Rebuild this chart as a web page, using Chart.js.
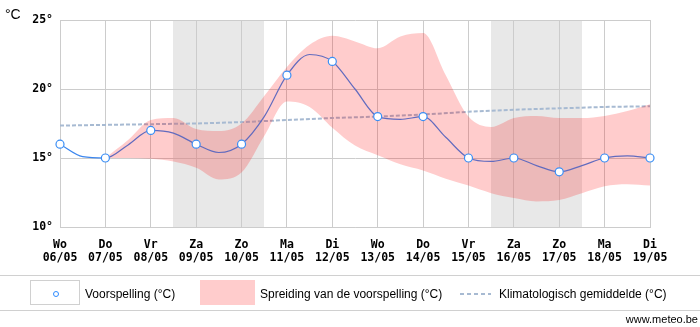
<!DOCTYPE html>
<html>
<head>
<meta charset="utf-8">
<script src="https://cdn.jsdelivr.net/npm/chart.js@4/dist/chart.umd.min.js"></script>
<style>
  html, body { margin: 0; padding: 0; background: #fff; }
  #wrap { position: relative; width: 700px; height: 327px; overflow: hidden; font-family: 'Liberation Sans', Arial, sans-serif; color: #000; }
  #tempChart { position: absolute; left: 0; top: 0; }
  .unit { position: absolute; left: 5px; top: 7px; font-size: 14px; line-height: 14px; }
  .legend { position: absolute; left: 0; top: 275px; width: 700px; height: 34px; border-top: 1px solid #d0d0d0; border-bottom: 1px solid #d0d0d0; }
  .legend .box { position: absolute; top: 4px; height: 25px; box-sizing: border-box; }
  .legend .dot { position: absolute; left: 22px; top: 10px; width: 6px; height: 6px; box-sizing: border-box; border: 1px solid #2f8cff; border-radius: 50%; }
  .legend .txt { position: absolute; top: 11px; font-size: 12px; line-height: 14px; white-space: nowrap; }
  .legend .dash { position: absolute; left: 460px; top: 17px; width: 31px; height: 2px;
    background: repeating-linear-gradient(90deg, #a7bad2 0 4px, transparent 4px 7px); }
  .credit { position: absolute; right: 2px; top: 312px; font-size: 11px; line-height: 14px; }
</style>
</head>
<body>
<div id="wrap">
  <canvas id="tempChart" width="700" height="327"></canvas>
  <div class="unit">°C</div>
  <div class="legend">
    <div class="box" style="left:30px;width:50px;border:1px solid #d0d0d0;background:#fff"><div class="dot"></div></div>
    <div class="txt" style="left:85px">Voorspelling (°C)</div>
    <div class="box" style="left:200px;width:55px;background:#ffcccc"></div>
    <div class="txt" style="left:260px">Spreiding van de voorspelling (°C)</div>
    <div class="dash"></div>
    <div class="txt" style="left:499px">Klimatologisch gemiddelde (°C)</div>
  </div>
  <div class="credit">www.meteo.be</div>
</div>
<script>
// ─── Data ─────────────────────────────────────
const days  = ['Wo','Do','Vr','Za','Zo','Ma','Di','Wo','Do','Vr','Za','Zo','Ma','Di'];
const dates = ['06/05','07/05','08/05','09/05','10/05','11/05','12/05','13/05','14/05','15/05','16/05','17/05','18/05','19/05'];
const yTicks = [10, 15, 20, 25];

// daily forecast (markers) and the mid-day values of the trace between them
const forecast    = [16, 15, 17, 16, 16, 21, 22, 18, 18, 15, 15, 14, 15, 15];
const forecastMid = [15.1, 15.95, 16.8, 15.4, 18.0, 22.5, 20.0, 17.8, 16.5, 14.75, 14.45, 14.45, 15.15];

// spread of the forecast, half-day steps starting at day index 1
const spreadStart = 1;
const spreadHigh = [15.0, 16.3, 17.75, 17.9, 17.1, 16.95, 17.5, 19.5, 21.6, 23.2, 23.85, 23.45, 22.95,
                    23.8, 24.05, 21.0, 18.0, 17.25, 17.9, 18.05, 17.9, 17.9, 18.05, 18.4, 18.9];
const spreadLow  = [15.0, 15.0, 14.95, 14.75, 14.3, 13.45, 13.95, 16.6, 19.1, 18.7, 17.2, 15.9, 15.2,
                    14.55, 14.1, 13.5, 13.0, 12.45, 12.1, 11.85, 11.95, 12.45, 12.95, 13.1, 13.0];

// climatological mean per day
const climate = [17.35, 17.4, 17.45, 17.5, 17.6, 17.75, 17.9, 18.0, 18.15, 18.35, 18.5, 18.6, 18.7, 18.75];

// ─── Build point lists ────────────────────────
const trace = [];
forecast.forEach((v, i) => {
  trace.push({ x: i, y: v });
  if (i < forecastMid.length) trace.push({ x: i + 0.5, y: forecastMid[i] });
});
const halfSteps = arr => arr.map((v, k) => ({ x: spreadStart + k * 0.5, y: v }));
const daily = arr => arr.map((v, i) => ({ x: i, y: v }));

// ─── Weekend shading behind the grid ──────────
const weekendShade = {
  id: 'weekendShade',
  beforeDraw(chart) {
    const { ctx, chartArea, scales: { x } } = chart;
    ctx.save();
    ctx.fillStyle = '#e8e8e8';
    days.forEach((d, i) => {
      if (d !== 'Za' && d !== 'Zo') return;
      const x0 = Math.round(x.getPixelForValue(i - 0.5));
      const x1 = Math.round(x.getPixelForValue(i + 0.5));
      ctx.fillRect(x0, chartArea.top, x1 - x0, chartArea.bottom - chartArea.top);
    });
    ctx.restore();
  }
};

const tickFont = { family: "'DejaVu Sans Mono', monospace", size: 11.5, weight: 'bold', lineHeight: 1.13 };

new Chart(document.getElementById('tempChart'), {
  type: 'line',
  data: {
    datasets: [
      {
        label: 'Klimatologisch gemiddelde (°C)',
        data: daily(climate),
        borderColor: '#a7bad2', borderWidth: 2, borderDash: [4, 2],
        pointRadius: 0, tension: 0, order: 5,
      },
      {
        label: 'Voorspelling trace',
        data: trace,
        borderColor: '#3b86ee', borderWidth: 1.2,
        pointRadius: 0, cubicInterpolationMode: 'monotone', order: 4,
      },
      {
        label: 'Spreiding min',
        data: halfSteps(spreadLow),
        borderColor: 'transparent', borderWidth: 0,
        pointRadius: 0, cubicInterpolationMode: 'monotone', fill: false, order: 3,
      },
      {
        label: 'Spreiding van de voorspelling (°C)',
        data: halfSteps(spreadHigh),
        borderColor: 'transparent', borderWidth: 0,
        backgroundColor: 'rgba(255,0,0,0.2)',
        pointRadius: 0, cubicInterpolationMode: 'monotone', fill: { target: 2 }, order: 3,
      },
      {
        label: 'Voorspelling (°C)',
        data: daily(forecast),
        showLine: false,
        pointRadius: 4, pointBackgroundColor: '#fff',
        pointBorderColor: '#3a8ef5', pointBorderWidth: 1.2,
        clip: false, order: 1,
      },
    ],
  },
  options: {
    responsive: false,
    animation: false,
    events: [],
    layout: { padding: { top: 20, right: 50, bottom: 60, left: 0 } },
    plugins: { legend: { display: false }, tooltip: { enabled: false } },
    scales: {
      x: {
        type: 'linear', min: 0, max: days.length - 1,
        afterFit(scale) { scale.height = 40; },
        grid: { color: '#cccccc', drawTicks: false },
        border: { color: '#cccccc' },
        ticks: {
          stepSize: 1, autoSkip: false, maxRotation: 0, padding: 12,
          color: '#000', font: tickFont,
          callback: v => Number.isInteger(v) ? [days[v], dates[v]] : '',
        },
      },
      y: {
        min: yTicks[0], max: yTicks[yTicks.length - 1],
        afterFit(scale) { scale.width = 60; },
        afterBuildTicks(scale) { scale.ticks = yTicks.map(v => ({ value: v })); },
        grid: { color: '#cccccc', drawTicks: false },
        border: { color: '#cccccc' },
        ticks: { padding: 7, color: '#000', font: tickFont, callback: v => v + '°' },
      },
    },
  },
  plugins: [weekendShade],
});
</script>
</body>
</html>
